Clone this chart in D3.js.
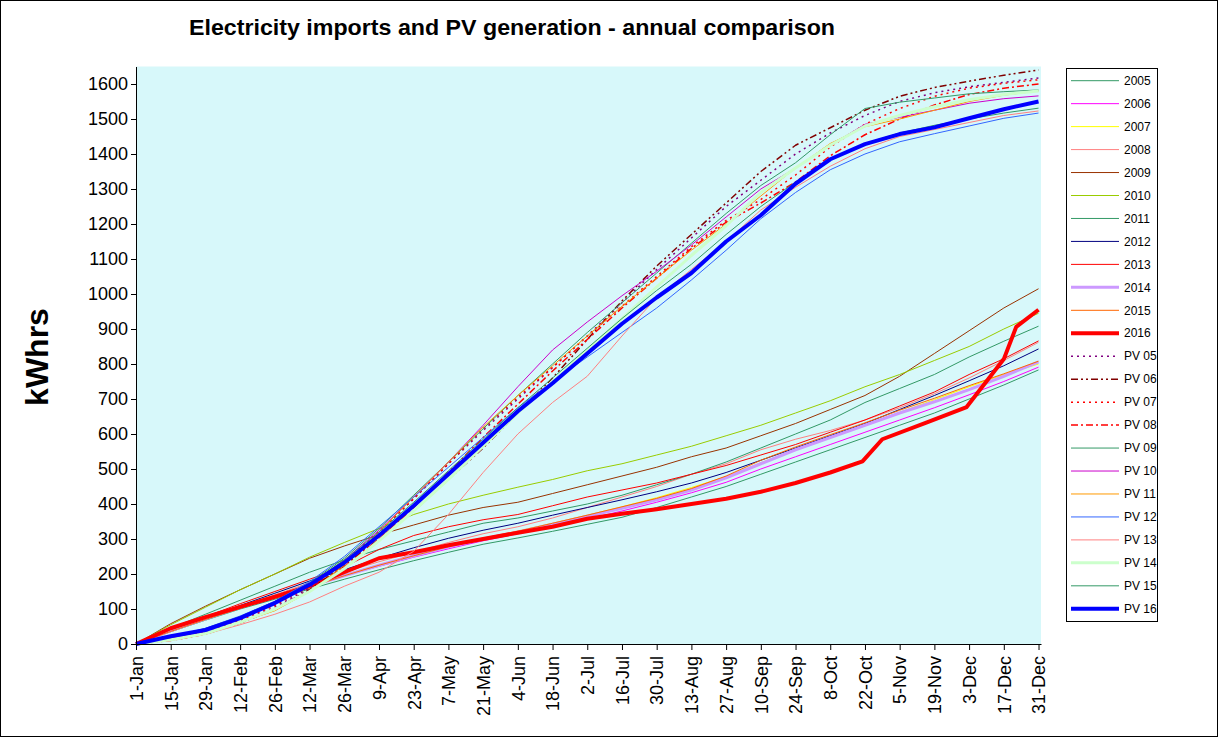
<!DOCTYPE html>
<html>
<head>
<meta charset="utf-8">
<script src="https://cdn.jsdelivr.net/npm/d3@7"></script>
<style>
    body { margin: 0; background: #fff; }
    svg { display: block; font-family: Arial, 'Liberation Sans', sans-serif; }
</style>
</head>
<body>
<svg width="1218" height="737"></svg>
<script>
// day of year for each reading (every 14 days from 1-Jan)
const days = [0, 14, 28, 42, 56, 70, 84, 98, 112, 126, 140, 154, 168, 182, 196, 210, 224, 238, 252, 266, 280, 294, 308, 322, 336, 350, 364];
// 2016 has a few extra readings around its late jumps
const days2016 = [0, 14, 28, 42, 56, 70, 84, 98, 112, 126, 140, 154, 168, 182, 196, 210, 224, 238, 252, 266, 280, 293, 301, 319, 335, 350, 355, 364];
const tickLabels = ['1-Jan', '15-Jan', '29-Jan', '12-Feb', '26-Feb', '12-Mar', '26-Mar', '9-Apr', '23-Apr', '7-May', '21-May', '4-Jun', '18-Jun',
    '2-Jul', '16-Jul', '30-Jul', '13-Aug', '27-Aug', '10-Sep', '24-Sep', '8-Oct', '22-Oct', '5-Nov', '19-Nov', '3-Dec', '17-Dec', '31-Dec'];
const yTicks = [0, 100, 200, 300, 400, 500, 600, 700, 800, 900, 1000, 1100, 1200, 1300, 1400, 1500, 1600];

// cumulative electricity imports (kWh)
const imp2005 = [0, 35, 68, 100, 128, 157, 185, 212, 238, 262, 285, 303, 322, 342, 362, 390, 420, 450, 485, 520, 555, 590, 625, 660, 700, 740, 783];
const imp2006 = [0, 37, 72, 105, 135, 165, 195, 222, 248, 272, 295, 315, 335, 357, 380, 405, 432, 462, 500, 535, 570, 605, 640, 675, 712, 750, 791];
const imp2007 = [0, 38, 73, 107, 138, 168, 198, 226, 253, 278, 302, 323, 345, 368, 392, 418, 447, 478, 518, 555, 590, 625, 662, 698, 735, 770, 800];
const imp2008 = [0, 35, 70, 105, 140, 175, 205, 235, 262, 290, 315, 335, 360, 390, 420, 450, 485, 515, 555, 585, 610, 640, 675, 715, 760, 810, 862];
const imp2009 = [0, 58, 108, 155, 200, 245, 280, 312, 340, 368, 390, 405, 430, 455, 480, 505, 535, 560, 595, 630, 670, 710, 765, 830, 895, 960, 1015];
const imp2010 = [0, 55, 105, 155, 200, 248, 290, 330, 370, 400, 425, 448, 470, 495, 515, 540, 565, 595, 625, 660, 695, 735, 770, 810, 850, 900, 945];
const imp2011 = [0, 45, 85, 125, 165, 205, 240, 270, 295, 320, 345, 360, 380, 400, 425, 455, 485, 520, 560, 600, 640, 690, 730, 770, 820, 865, 908];
const imp2012 = [0, 38, 75, 110, 145, 180, 212, 245, 275, 302, 325, 345, 368, 390, 412, 435, 460, 490, 525, 560, 595, 630, 670, 710, 752, 795, 843];
const imp2013 = [0, 40, 78, 115, 150, 185, 220, 270, 310, 335, 355, 370, 395, 420, 440, 460, 485, 510, 540, 570, 605, 640, 680, 720, 770, 815, 866];
const imp2014 = [0, 38, 72, 105, 135, 165, 195, 225, 252, 278, 300, 320, 342, 365, 388, 412, 440, 475, 515, 555, 590, 625, 660, 692, 727, 765, 806];
const imp2015 = [0, 36, 70, 102, 132, 162, 195, 225, 252, 278, 302, 322, 345, 368, 392, 416, 444, 480, 525, 563, 598, 632, 668, 702, 738, 772, 808];
const imp2016 = [0, 45, 77, 106, 135, 165, 205, 245, 262, 282, 300, 318, 335, 358, 372, 385, 400, 415, 435, 460, 490, 522, 585, 633, 677, 814, 906, 955];

// cumulative PV generation (kWh)
const pv05 = [0, 15, 35, 65, 105, 160, 230, 320, 415, 515, 610, 700, 790, 880, 975, 1070, 1160, 1250, 1325, 1400, 1460, 1510, 1550, 1575, 1592, 1605, 1617];
const pv06 = [0, 12, 30, 60, 100, 155, 225, 300, 380, 470, 560, 660, 760, 870, 980, 1080, 1170, 1260, 1350, 1425, 1475, 1525, 1565, 1590, 1608, 1625, 1640];
const pv07 = [0, 14, 35, 68, 110, 165, 235, 320, 415, 515, 615, 705, 790, 880, 965, 1050, 1135, 1210, 1270, 1340, 1420, 1485, 1530, 1565, 1588, 1602, 1612];
const pv08 = [0, 10, 28, 60, 100, 150, 220, 300, 390, 490, 590, 685, 780, 870, 960, 1045, 1130, 1205, 1260, 1320, 1395, 1455, 1500, 1540, 1570, 1588, 1600];
const pv09 = [0, 18, 42, 78, 122, 175, 245, 330, 425, 520, 615, 710, 800, 890, 975, 1060, 1145, 1230, 1310, 1375, 1455, 1530, 1548, 1560, 1572, 1578, 1583];
const pv10 = [0, 16, 38, 72, 115, 170, 240, 325, 420, 520, 625, 735, 840, 920, 995, 1065, 1140, 1220, 1300, 1360, 1425, 1485, 1505, 1525, 1545, 1558, 1566];
const pv11 = [0, 14, 32, 62, 95, 150, 225, 320, 420, 520, 620, 710, 795, 880, 965, 1045, 1125, 1200, 1280, 1360, 1430, 1478, 1500, 1525, 1550, 1568, 1580];
const pv12 = [0, 20, 45, 80, 122, 178, 250, 335, 420, 505, 590, 675, 750, 820, 890, 960, 1040, 1125, 1215, 1290, 1355, 1400, 1435, 1458, 1480, 1502, 1517];
const pv13 = [0, 10, 28, 55, 85, 120, 165, 205, 265, 370, 490, 600, 690, 765, 880, 990, 1070, 1150, 1240, 1305, 1365, 1415, 1450, 1470, 1490, 1510, 1523];
const pv14 = [0, 12, 30, 62, 100, 150, 215, 295, 380, 470, 565, 660, 750, 840, 930, 1020, 1110, 1195, 1290, 1360, 1425, 1480, 1510, 1535, 1555, 1570, 1580];
const pv15 = [0, 20, 44, 78, 120, 172, 240, 320, 405, 495, 585, 675, 760, 845, 930, 1010, 1085, 1170, 1250, 1320, 1385, 1430, 1460, 1482, 1500, 1517, 1531];
const pv16 = [0, 22, 40, 74, 117, 169, 232, 310, 395, 485, 575, 665, 745, 830, 915, 990, 1060, 1150, 1225, 1315, 1385, 1428, 1457, 1476, 1502, 1528, 1550];

const seriesNames = ['2005', '2006', '2007', '2008', '2009', '2010', '2011', '2012', '2013', '2014', '2015', '2016',
    'PV 05', 'PV 06', 'PV 07', 'PV 08', 'PV 09', 'PV 10', 'PV 11', 'PV 12', 'PV 13', 'PV 14', 'PV 15', 'PV 16'];
const seriesValues = [imp2005, imp2006, imp2007, imp2008, imp2009, imp2010, imp2011, imp2012, imp2013, imp2014, imp2015, imp2016,
    pv05, pv06, pv07, pv08, pv09, pv10, pv11, pv12, pv13, pv14, pv15, pv16];

// line look per series, same order as seriesNames
const styles = [
    {color: '#339966', width: 1}, {color: '#ff00ff', width: 1}, {color: '#ffff00', width: 1}, {color: '#ff8080', width: 1},
    {color: '#993300', width: 1}, {color: '#99cc00', width: 1}, {color: '#339966', width: 1}, {color: '#000080', width: 1},
    {color: '#ff0000', width: 1}, {color: '#cc99ff', width: 3}, {color: '#ff6600', width: 1}, {color: '#ff0000', width: 4},
    {color: '#800080', width: 1.5, dash: '2,4'}, {color: '#800000', width: 1.5, dash: '7,3,2,3,2,3'},
    {color: '#ff0000', width: 1.5, dash: '2,4'}, {color: '#ff0000', width: 1.5, dash: '7,3,2,3'},
    {color: '#339966', width: 1}, {color: '#cc00cc', width: 1}, {color: '#ff9900', width: 1}, {color: '#3366ff', width: 1},
    {color: '#ff8080', width: 1}, {color: '#ccffcc', width: 3}, {color: '#339966', width: 1}, {color: '#0000ff', width: 4}
];

let svg = d3.select('svg');

svg.append('rect')
    .attr('x', 0.5).attr('y', 0.5)
    .attr('width', 1217).attr('height', 736)
    .attr('fill', '#fff').attr('stroke', '#000');

let x = d3.scaleLinear().domain([0, 365]).range([136, 1041]);
let y = d3.scaleLinear().domain([0, 1650]).range([644, 66.5]);

svg.append('rect')
    .attr('x', x(0)).attr('y', y(1650))
    .attr('width', x(365) - x(0)).attr('height', y(0) - y(1650))
    .attr('fill', '#d7f8fa');

let line = d3.line()
    .x(d => x(d[0]))
    .y(d => y(d[1]));

let series = seriesValues.map(v => d3.zip(v === imp2016 ? days2016 : days, v));

svg.append('g')
    .selectAll('path')
    .data(series)
    .enter().append('path')
    .attr('d', d => line(d))
    .attr('fill', 'none')
    .attr('stroke', (d, i) => styles[i].color)
    .attr('stroke-width', (d, i) => styles[i].width)
    .attr('stroke-dasharray', (d, i) => styles[i].dash || null)
    .attr('stroke-linejoin', 'round');

let yAxis = svg.append('g')
    .attr('transform', `translate(${x(0)},0)`)
    .call(d3.axisLeft(y).tickValues(yTicks).tickFormat(d3.format('d')).tickSize(5).tickSizeOuter(0).tickPadding(3));
yAxis.selectAll('text').style('font-size', '18px').attr('fill', '#000');
yAxis.selectAll('line').attr('stroke', '#000');
yAxis.select('.domain').attr('stroke', '#000');

let xAxis = svg.append('g')
    .attr('transform', `translate(0,${y(0)})`)
    .call(d3.axisBottom(x).tickValues(days).tickFormat((d, i) => tickLabels[i]).tickSize(6).tickSizeOuter(0));
xAxis.selectAll('text')
    .style('font-size', '18px')
    .style('text-anchor', 'end')
    .attr('fill', '#000')
    .attr('x', -12)
    .attr('y', 0)
    .attr('dy', '0.35em')
    .attr('transform', 'rotate(-90)');
xAxis.selectAll('line').attr('stroke', '#000');
xAxis.select('.domain').attr('stroke', '#000');

svg.append('text')
    .attr('x', 512).attr('y', 35)
    .attr('text-anchor', 'middle')
    .attr('textLength', 646)
    .attr('lengthAdjust', 'spacingAndGlyphs')
    .style('font-size', '22px')
    .style('font-weight', 'bold')
    .text('Electricity imports and PV generation - annual comparison');

svg.append('text')
    .attr('transform', 'translate(48,357) rotate(-90)')
    .attr('text-anchor', 'middle')
    .style('font-size', '32px')
    .style('font-weight', 'bold')
    .text('kWhrs');

// legend
let legend = svg.append('g');
legend.append('rect')
    .attr('x', 1066.5).attr('y', 68.5)
    .attr('width', 91).attr('height', 553)
    .attr('fill', '#fff').attr('stroke', '#000');

let item = legend.selectAll('g.item')
    .data(seriesNames)
    .enter().append('g')
    .attr('class', 'item')
    .attr('transform', (d, i) => `translate(0,${80.7 + i * 22.96})`);

item.append('line')
    .attr('x1', 1071).attr('x2', 1119)
    .attr('stroke', (d, i) => styles[i].color)
    .attr('stroke-width', (d, i) => styles[i].width)
    .attr('stroke-dasharray', (d, i) => styles[i].dash || null);

item.append('text')
    .attr('x', 1124)
    .attr('dy', '0.35em')
    .style('font-size', '12px')
    .text(d => d);
</script>
</body>
</html>
